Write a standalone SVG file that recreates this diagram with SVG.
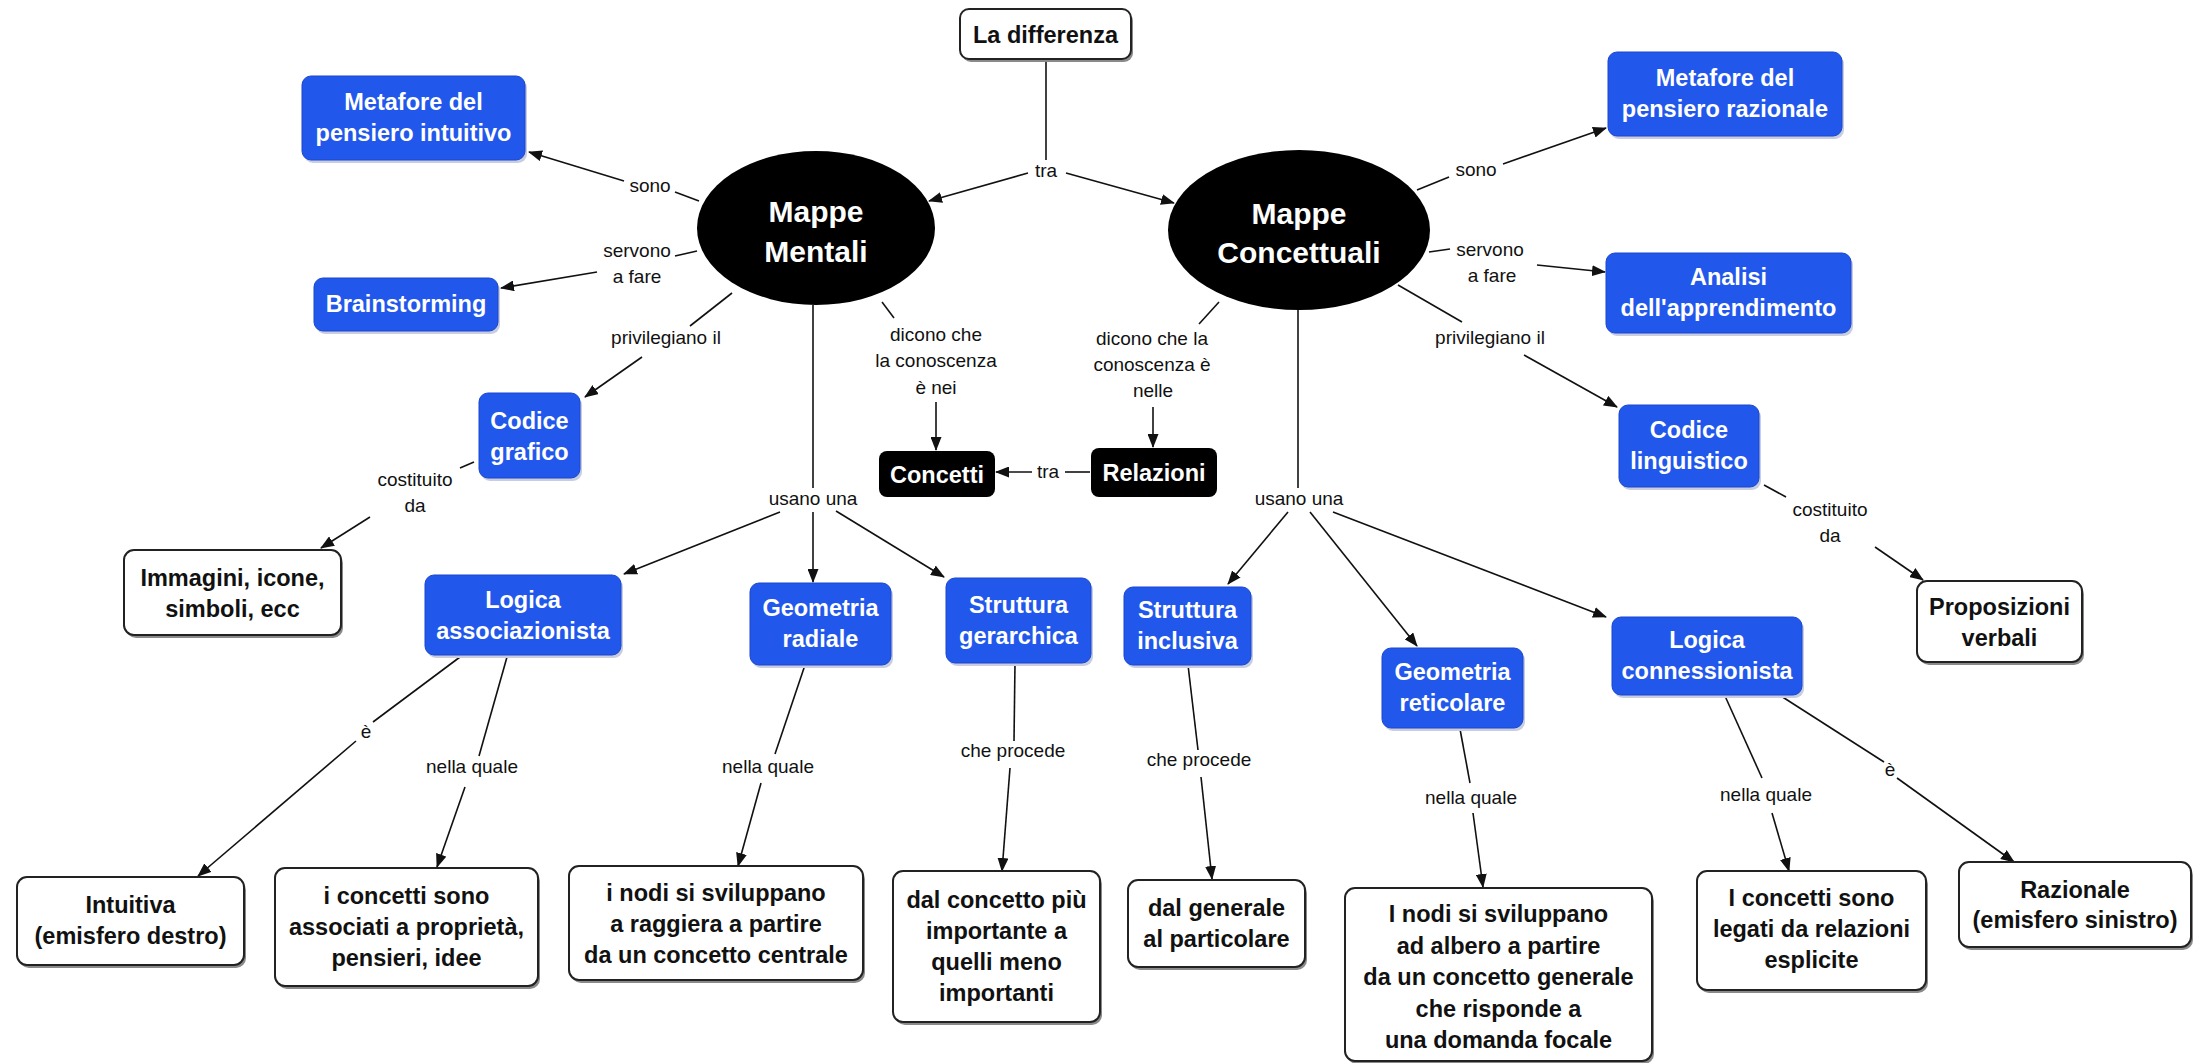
<svg xmlns="http://www.w3.org/2000/svg" width="2194" height="1063" viewBox="0 0 2194 1063">
<defs>
<marker id="arr" markerUnits="userSpaceOnUse" markerWidth="14" markerHeight="11" refX="13" refY="5.5" orient="auto">
<path d="M0,0 L14,5.5 L0,11 z" fill="#111"/>
</marker>
<style>
.bl{fill:#2257ec;stroke:#1a47cc;stroke-width:1}
.bs{fill:#c9cde0}
.wb{fill:#fff;stroke:#222;stroke-width:2}
.ws{fill:#8a8a8a}
.kb{fill:#000}
.bt{font-family:"Liberation Sans",Arial,sans-serif;font-weight:bold;font-size:23.5px;fill:#fff;text-anchor:middle}
.wt{font-family:"Liberation Sans",Arial,sans-serif;font-weight:bold;font-size:23.5px;fill:#111;text-anchor:middle}
.et{font-family:"Liberation Sans",Arial,sans-serif;font-weight:bold;font-size:30px;fill:#fff;text-anchor:middle}
.lb{font-family:"Liberation Sans",Arial,sans-serif;font-size:19px;fill:#111;text-anchor:middle}
.c{stroke:#111;stroke-width:1.6;fill:none}
.a{stroke:#111;stroke-width:1.6;fill:none;marker-end:url(#arr)}
</style>
</defs>
<rect width="2194" height="1063" fill="#fff"/>

<g id="connectors">
<line class="c" x1="1046" y1="59" x2="1046" y2="160"/>
<text class="lb" x="1046" y="177">tra</text>
<line class="a" x1="1028" y1="173" x2="929" y2="201"/>
<line class="a" x1="1066" y1="173" x2="1174" y2="203"/>

<line class="c" x1="699" y1="201" x2="675" y2="192"/>
<text class="lb" x="650" y="192">sono</text>
<line class="a" x1="624" y1="181" x2="529" y2="152"/>

<line class="c" x1="697" y1="251" x2="675" y2="256"/>
<text class="lb" x="637" y="257">servono</text>
<text class="lb" x="637" y="283">a fare</text>
<line class="a" x1="597" y1="272" x2="501" y2="288"/>

<line class="c" x1="732" y1="293" x2="690" y2="326"/>
<text class="lb" x="666" y="344">privilegiano il</text>
<line class="a" x1="642" y1="357" x2="585" y2="397"/>

<line class="c" x1="474" y1="462" x2="460" y2="468"/>
<text class="lb" x="415" y="486">costituito</text>
<text class="lb" x="415" y="512">da</text>
<line class="a" x1="370" y1="517" x2="321" y2="548"/>

<line class="c" x1="813" y1="305" x2="813" y2="488"/>
<text class="lb" x="813" y="505">usano una</text>
<line class="a" x1="780" y1="512" x2="624" y2="574"/>
<line class="a" x1="813" y1="512" x2="813" y2="582"/>
<line class="a" x1="836" y1="511" x2="944" y2="577"/>

<line class="c" x1="882" y1="302" x2="894" y2="318"/>
<text class="lb" x="936" y="341">dicono che</text>
<text class="lb" x="936" y="367">la conoscenza</text>
<text class="lb" x="936" y="394">è nei</text>
<line class="a" x1="936" y1="402" x2="936" y2="450"/>

<line class="c" x1="1219" y1="302" x2="1199" y2="324"/>
<text class="lb" x="1152" y="345">dicono che la</text>
<text class="lb" x="1152" y="371">conoscenza è</text>
<text class="lb" x="1153" y="397">nelle</text>
<line class="a" x1="1153" y1="407" x2="1153" y2="447"/>

<line class="c" x1="1090" y1="472" x2="1065" y2="472"/>
<text class="lb" x="1048" y="478">tra</text>
<line class="a" x1="1032" y1="472" x2="996" y2="472"/>

<line class="c" x1="1417" y1="190" x2="1449" y2="177"/>
<text class="lb" x="1476" y="176">sono</text>
<line class="a" x1="1503" y1="164" x2="1606" y2="128"/>

<line class="c" x1="1429" y1="252" x2="1450" y2="249"/>
<text class="lb" x="1490" y="256">servono</text>
<text class="lb" x="1492" y="282">a fare</text>
<line class="a" x1="1537" y1="265" x2="1605" y2="272"/>

<line class="c" x1="1398" y1="285" x2="1462" y2="322"/>
<text class="lb" x="1490" y="344">privilegiano il</text>
<line class="a" x1="1524" y1="355" x2="1617" y2="407"/>

<line class="c" x1="1764" y1="485" x2="1786" y2="497"/>
<text class="lb" x="1830" y="516">costituito</text>
<text class="lb" x="1830" y="542">da</text>
<line class="a" x1="1875" y1="547" x2="1923" y2="580"/>

<line class="c" x1="1298" y1="310" x2="1298" y2="488"/>
<text class="lb" x="1299" y="505">usano una</text>
<line class="a" x1="1288" y1="512" x2="1228" y2="584"/>
<line class="a" x1="1310" y1="512" x2="1417" y2="646"/>
<line class="a" x1="1333" y1="512" x2="1606" y2="617"/>

<line class="c" x1="460" y1="657" x2="373" y2="722"/>
<text class="lb" x="366" y="738">è</text>
<line class="a" x1="356" y1="741" x2="198" y2="876"/>

<line class="c" x1="507" y1="657" x2="479" y2="756"/>
<text class="lb" x="472" y="773">nella quale</text>
<line class="a" x1="465" y1="787" x2="437" y2="867"/>

<line class="c" x1="805" y1="665" x2="775" y2="754"/>
<text class="lb" x="768" y="773">nella quale</text>
<line class="a" x1="761" y1="783" x2="738" y2="866"/>

<line class="c" x1="1015" y1="663" x2="1014" y2="741"/>
<text class="lb" x="1013" y="757">che procede</text>
<line class="a" x1="1010" y1="768" x2="1002" y2="871"/>

<line class="c" x1="1188" y1="665" x2="1198" y2="750"/>
<text class="lb" x="1199" y="766">che procede</text>
<line class="a" x1="1201" y1="777" x2="1212" y2="879"/>

<line class="c" x1="1460" y1="729" x2="1470" y2="783"/>
<text class="lb" x="1471" y="804">nella quale</text>
<line class="a" x1="1473" y1="813" x2="1483" y2="887"/>

<line class="c" x1="1725" y1="696" x2="1762" y2="778"/>
<text class="lb" x="1766" y="801">nella quale</text>
<line class="a" x1="1772" y1="813" x2="1789" y2="871"/>

<line class="c" x1="1781" y1="696" x2="1884" y2="762"/>
<text class="lb" x="1890" y="776">è</text>
<line class="a" x1="1897" y1="778" x2="2014" y2="862"/>
</g>

<g id="n-la-differenza">
<rect class="ws" x="962" y="12" width="171" height="50" rx="9"/>
<rect class="wb" x="960" y="9" width="171" height="50" rx="9"/>
<text class="wt" x="1045.5" y="43">La differenza</text>
</g>

<g id="n-mappe-mentali">
<ellipse cx="816" cy="228" rx="119" ry="77" fill="#000"/>
<text class="et" x="816" y="222">Mappe</text>
<text class="et" x="816" y="262">Mentali</text>
</g>

<g id="n-mappe-concettuali">
<ellipse cx="1299" cy="230" rx="131" ry="80" fill="#000"/>
<text class="et" x="1299" y="224">Mappe</text>
<text class="et" x="1299" y="263">Concettuali</text>
</g>

<g id="n-metafore-intuitivo">
<rect class="bs" x="304" y="79" width="223" height="84" rx="9"/>
<rect class="bl" x="302" y="76" width="223" height="84" rx="9"/>
<text class="bt" x="413.5" y="110">Metafore del</text>
<text class="bt" x="413.5" y="141">pensiero intuitivo</text>
</g>

<g id="n-brainstorming">
<rect class="bs" x="316" y="281" width="184" height="53" rx="9"/>
<rect class="bl" x="314" y="278" width="184" height="53" rx="9"/>
<text class="bt" x="406" y="312">Brainstorming</text>
</g>

<g id="n-codice-grafico">
<rect class="bs" x="481" y="396" width="101" height="85" rx="9"/>
<rect class="bl" x="479" y="393" width="101" height="85" rx="9"/>
<text class="bt" x="529.5" y="429">Codice</text>
<text class="bt" x="529.5" y="460">grafico</text>
</g>

<g id="n-immagini">
<rect class="ws" x="126" y="553" width="217" height="85" rx="10"/>
<rect class="wb" x="124" y="550" width="217" height="85" rx="10"/>
<text class="wt" x="232.5" y="586">Immagini, icone,</text>
<text class="wt" x="232.5" y="617">simboli, ecc</text>
</g>

<g id="n-logica-associazionista">
<rect class="bs" x="427" y="578" width="196" height="80" rx="9"/>
<rect class="bl" x="425" y="575" width="196" height="80" rx="9"/>
<text class="bt" x="523" y="608">Logica</text>
<text class="bt" x="523" y="639">associazionista</text>
</g>

<g id="n-geometria-radiale">
<rect class="bs" x="752" y="586" width="141" height="82" rx="9"/>
<rect class="bl" x="750" y="583" width="141" height="82" rx="9"/>
<text class="bt" x="820.5" y="616">Geometria</text>
<text class="bt" x="820.5" y="647">radiale</text>
</g>

<g id="n-struttura-gerarchica">
<rect class="bs" x="948" y="581" width="145" height="85" rx="9"/>
<rect class="bl" x="946" y="578" width="145" height="85" rx="9"/>
<text class="bt" x="1018.5" y="613">Struttura</text>
<text class="bt" x="1018.5" y="644">gerarchica</text>
</g>

<g id="n-concetti">
<rect class="kb" x="879" y="451" width="116" height="46" rx="8"/>
<text class="bt" x="937" y="483">Concetti</text>
</g>

<g id="n-relazioni">
<rect class="kb" x="1091" y="448" width="126" height="49" rx="8"/>
<text class="bt" x="1154" y="481">Relazioni</text>
</g>

<g id="n-struttura-inclusiva">
<rect class="bs" x="1126" y="590" width="127" height="78" rx="9"/>
<rect class="bl" x="1124" y="587" width="127" height="78" rx="9"/>
<text class="bt" x="1187.5" y="618">Struttura</text>
<text class="bt" x="1187.5" y="649">inclusiva</text>
</g>

<g id="n-geometria-reticolare">
<rect class="bs" x="1384" y="651" width="141" height="80" rx="9"/>
<rect class="bl" x="1382" y="648" width="141" height="80" rx="9"/>
<text class="bt" x="1452.5" y="680">Geometria</text>
<text class="bt" x="1452.5" y="711">reticolare</text>
</g>

<g id="n-logica-connessionista">
<rect class="bs" x="1614" y="620" width="190" height="78" rx="9"/>
<rect class="bl" x="1612" y="617" width="190" height="78" rx="9"/>
<text class="bt" x="1707" y="648">Logica</text>
<text class="bt" x="1707" y="679">connessionista</text>
</g>

<g id="n-metafore-razionale">
<rect class="bs" x="1610" y="55" width="234" height="84" rx="9"/>
<rect class="bl" x="1608" y="52" width="234" height="84" rx="9"/>
<text class="bt" x="1725" y="86">Metafore del</text>
<text class="bt" x="1725" y="117">pensiero razionale</text>
</g>

<g id="n-analisi">
<rect class="bs" x="1608" y="256" width="245" height="80" rx="9"/>
<rect class="bl" x="1606" y="253" width="245" height="80" rx="9"/>
<text class="bt" x="1728.5" y="285">Analisi</text>
<text class="bt" x="1728.5" y="316">dell'apprendimento</text>
</g>

<g id="n-codice-linguistico">
<rect class="bs" x="1621" y="408" width="140" height="82" rx="9"/>
<rect class="bl" x="1619" y="405" width="140" height="82" rx="9"/>
<text class="bt" x="1689" y="438">Codice</text>
<text class="bt" x="1689" y="469">linguistico</text>
</g>

<g id="n-proposizioni">
<rect class="ws" x="1919" y="584" width="165" height="81" rx="10"/>
<rect class="wb" x="1917" y="581" width="165" height="81" rx="10"/>
<text class="wt" x="1999.5" y="615">Proposizioni</text>
<text class="wt" x="1999.5" y="646">verbali</text>
</g>

<g id="n-intuitiva">
<rect class="ws" x="19" y="880" width="227" height="88" rx="10"/>
<rect class="wb" x="17" y="877" width="227" height="88" rx="10"/>
<text class="wt" x="130.5" y="913">Intuitiva</text>
<text class="wt" x="130.5" y="944">(emisfero destro)</text>
</g>

<g id="n-concetti-associati">
<rect class="ws" x="277" y="871" width="263" height="118" rx="10"/>
<rect class="wb" x="275" y="868" width="263" height="118" rx="10"/>
<text class="wt" x="406.5" y="904">i concetti sono</text>
<text class="wt" x="406.5" y="935">associati a proprietà,</text>
<text class="wt" x="406.5" y="966">pensieri, idee</text>
</g>

<g id="n-nodi-raggiera">
<rect class="ws" x="571" y="869" width="294" height="114" rx="10"/>
<rect class="wb" x="569" y="866" width="294" height="114" rx="10"/>
<text class="wt" x="716" y="901">i nodi si sviluppano</text>
<text class="wt" x="716" y="932">a raggiera a partire</text>
<text class="wt" x="716" y="963">da un concetto centrale</text>
</g>

<g id="n-concetto-piu">
<rect class="ws" x="895" y="874" width="207" height="151" rx="10"/>
<rect class="wb" x="893" y="871" width="207" height="151" rx="10"/>
<text class="wt" x="996.5" y="908">dal concetto più</text>
<text class="wt" x="996.5" y="939">importante a</text>
<text class="wt" x="996.5" y="970">quelli meno</text>
<text class="wt" x="996.5" y="1001">importanti</text>
</g>

<g id="n-generale-particolare">
<rect class="ws" x="1130" y="883" width="177" height="87" rx="10"/>
<rect class="wb" x="1128" y="880" width="177" height="87" rx="10"/>
<text class="wt" x="1216.5" y="916">dal generale</text>
<text class="wt" x="1216.5" y="947">al particolare</text>
</g>

<g id="n-nodi-albero">
<rect class="ws" x="1347" y="891" width="307" height="173" rx="10"/>
<rect class="wb" x="1345" y="888" width="307" height="173" rx="10"/>
<text class="wt" x="1498.5" y="922">I nodi si sviluppano</text>
<text class="wt" x="1498.5" y="953.5">ad albero a partire</text>
<text class="wt" x="1498.5" y="985">da un concetto generale</text>
<text class="wt" x="1498.5" y="1016.5">che risponde a</text>
<text class="wt" x="1498.5" y="1048">una domanda focale</text>
</g>

<g id="n-concetti-legati">
<rect class="ws" x="1699" y="874" width="229" height="119" rx="10"/>
<rect class="wb" x="1697" y="871" width="229" height="119" rx="10"/>
<text class="wt" x="1811.5" y="906">I concetti sono</text>
<text class="wt" x="1811.5" y="937">legati da relazioni</text>
<text class="wt" x="1811.5" y="968">esplicite</text>
</g>

<g id="n-razionale">
<rect class="ws" x="1961" y="865" width="232" height="85" rx="10"/>
<rect class="wb" x="1959" y="862" width="232" height="85" rx="10"/>
<text class="wt" x="2075" y="898">Razionale</text>
<text class="wt" x="2075" y="928">(emisfero sinistro)</text>
</g>
</svg>
